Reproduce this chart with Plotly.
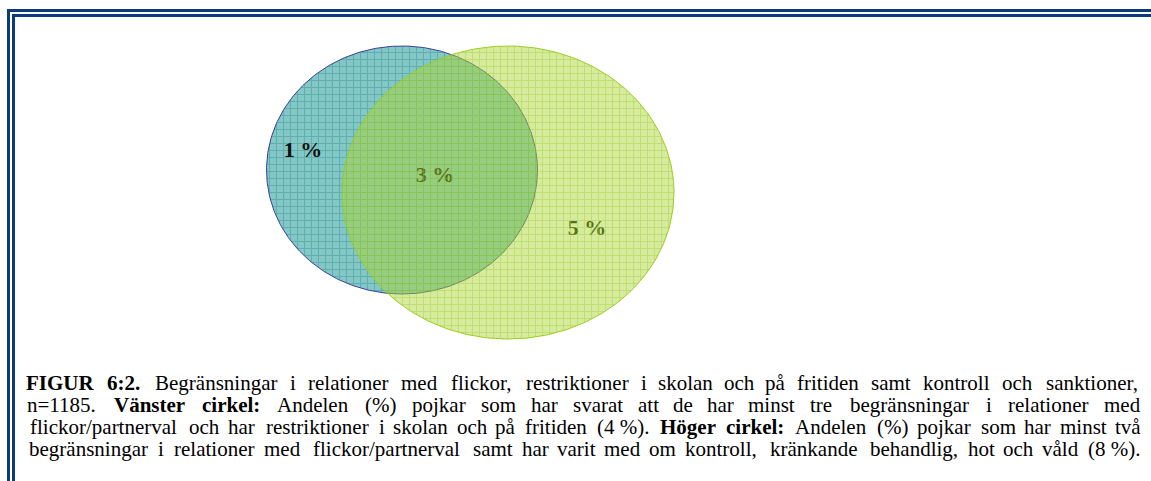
import numpy as np
import plotly.graph_objects as go

# ---------------- data ----------------
circle_names = ["Vänster cirkel", "Höger cirkel"]
circle_cx = [402, 508]
circle_cy = [170, 192.5]
circle_rx = [135.5, 166]
circle_ry = [124, 146.5]

region_labels = ["1 %", "3 %", "5 %"]
region_x = [303, 435, 587]
region_y = [151, 176, 229]

caption_lines = [
    "<b>FIGUR 6:2.</b> Begränsningar i relationer med flickor, restriktioner i skolan och på fritiden samt kontroll och sanktioner,",
    "n=1185. <b>Vänster cirkel:</b> Andelen (%) pojkar som har svarat att de har minst tre begränsningar i relationer med",
    "flickor/partnerval och har restriktioner i skolan och på fritiden (4\u00a0%). <b>Höger cirkel:</b> Andelen (%) pojkar som har minst två",
    "begränsningar i relationer med flickor/partnerval samt har varit med om kontroll, kränkande behandlig, hot och våld (8\u00a0%).",
]
caption_y = [383, 405, 427, 449]

# ---------------- helpers ----------------
REG = {" ": 250, "\u00a0": 250, "%": 833, "(": 333, ")": 333, ",": 250, "-": 333, ".": 250,
       "/": 278, ":": 278, "=": 564}
for d in "0123456789":
    REG[d] = 500
REG.update(dict(A=722, B=667, C=667, D=722, E=611, F=556, G=722, H=722, I=333, J=389, K=722,
                L=611, M=889, N=722, O=722, P=556, Q=722, R=667, S=556, T=611, U=722, V=722,
                W=944, X=722, Y=722, Z=611))
REG.update(dict(a=444, b=500, c=444, d=500, e=444, f=333, g=500, h=500, i=278, j=278, k=500,
                l=278, m=778, n=500, o=500, p=500, q=500, r=333, s=389, t=278, u=500, v=500,
                w=722, x=500, y=500, z=444))
REG.update({"ä": 444, "å": 444, "ö": 500, "Ä": 722, "Å": 722, "Ö": 722})
BOLD = dict(REG)
BOLD.update({"%": 1000, ":": 333})
BOLD.update(dict(A=722, B=667, C=722, D=722, E=667, F=611, G=778, H=778, I=389, J=500, K=778,
                 L=667, M=944, N=722, O=778, P=611, Q=778, R=722, S=556, T=667, U=722, V=722, W=1000))
BOLD.update(dict(a=500, b=556, c=444, d=556, e=444, f=333, g=500, h=556, i=278, j=333, k=556,
                 l=278, m=833, n=556, o=500, p=556, q=556, r=444, s=389, t=333, u=556, v=500,
                 w=722, x=500, y=500, z=444))
BOLD.update({"ä": 500, "å": 500, "ö": 500})

EM = 22.6          # horizontal px per em in the reference
LEFT, RIGHT = 24, 1142


def parse(line):
    words = []
    bold = False
    for tok in line.split(" "):
        b = bold
        if tok.startswith("<b>"):
            tok = tok[3:]
            b = True
            bold = True
        if tok.endswith("</b>"):
            tok = tok[:-4]
            bold = False
        words.append((tok, b))
    return words


def width(word, b):
    tbl = BOLD if b else REG
    return sum(tbl.get(ch, 500) for ch in word) / 1000.0 * EM


fig = go.Figure()

theta = np.linspace(0, 2 * np.pi, 361)

# left circle
fig.add_trace(go.Scatter(
    x=circle_cx[0] + circle_rx[0] * np.cos(theta),
    y=circle_cy[0] + circle_ry[0] * np.sin(theta),
    mode="lines", fill="toself", name=circle_names[0],
    line=dict(color="#3b3f98", width=1),
    fillcolor="#7cc2c2",
    fillpattern=dict(shape="+", size=7, solidity=0.28, fgcolor="#3a9898", bgcolor="#84c7c7"),
    hoverinfo="skip", showlegend=False,
))

# region labels (under the translucent right circle)
fig.add_trace(go.Scatter(
    x=region_x, y=region_y, mode="text",
    text=["<b>" + t + "</b>" for t in region_labels],
    textfont=dict(family="Liberation Serif", size=22, color="#111111"),
    hoverinfo="skip", showlegend=False,
))

# right circle
fig.add_trace(go.Scatter(
    x=circle_cx[1] + circle_rx[1] * np.cos(theta),
    y=circle_cy[1] + circle_ry[1] * np.sin(theta),
    mode="lines", fill="toself", name=circle_names[1],
    line=dict(color="#9ccc1e", width=1),
    fillcolor="rgba(168,212,44,0.5)",
    fillpattern=dict(shape="+", size=7, solidity=0.25, fgcolor="rgba(150,200,30,0.75)",
                     bgcolor="rgba(170,213,50,0.47)"),
    hoverinfo="skip", showlegend=False,
))

# caption: justified, word by word
annotations = []
for line, yy in zip(caption_lines, caption_y):
    words = parse(line)
    ws = [width(w, b) for w, b in words]
    gap = (RIGHT - LEFT - sum(ws)) / (len(words) - 1)
    x = LEFT
    for (w, b), wd in zip(words, ws):
        annotations.append(dict(
            x=x + wd / 2, y=yy, xref="x", yref="y", showarrow=False,
            xanchor="center", yanchor="middle",
            text=("<b>" + w + "</b>") if b else w,
            font=dict(family="Liberation Serif", size=21, color="#000000"),
        ))
        x += wd + gap

# double border
border = "#0c3c78"
shapes = [
    dict(type="rect", xref="x", yref="y", x0=8.5, y0=10.5, x1=1300, y1=700,
         line=dict(color=border, width=3), layer="above"),
    dict(type="rect", xref="x", yref="y", x0=13.5, y0=15.5, x1=1300, y1=700,
         line=dict(color=border, width=3), layer="above"),
]

fig.update_layout(
    width=1151, height=481,
    margin=dict(l=0, r=0, t=0, b=0),
    paper_bgcolor="white", plot_bgcolor="white",
    xaxis=dict(range=[0, 1151], visible=False, fixedrange=True),
    yaxis=dict(range=[481, 0], visible=False, fixedrange=True),
    annotations=annotations, shapes=shapes, showlegend=False,
)

fig.write_html(
    "out.html",
    config={"displayModeBar": False},
    post_script="document.body.style.margin='0';document.body.style.overflow='hidden';",
)
